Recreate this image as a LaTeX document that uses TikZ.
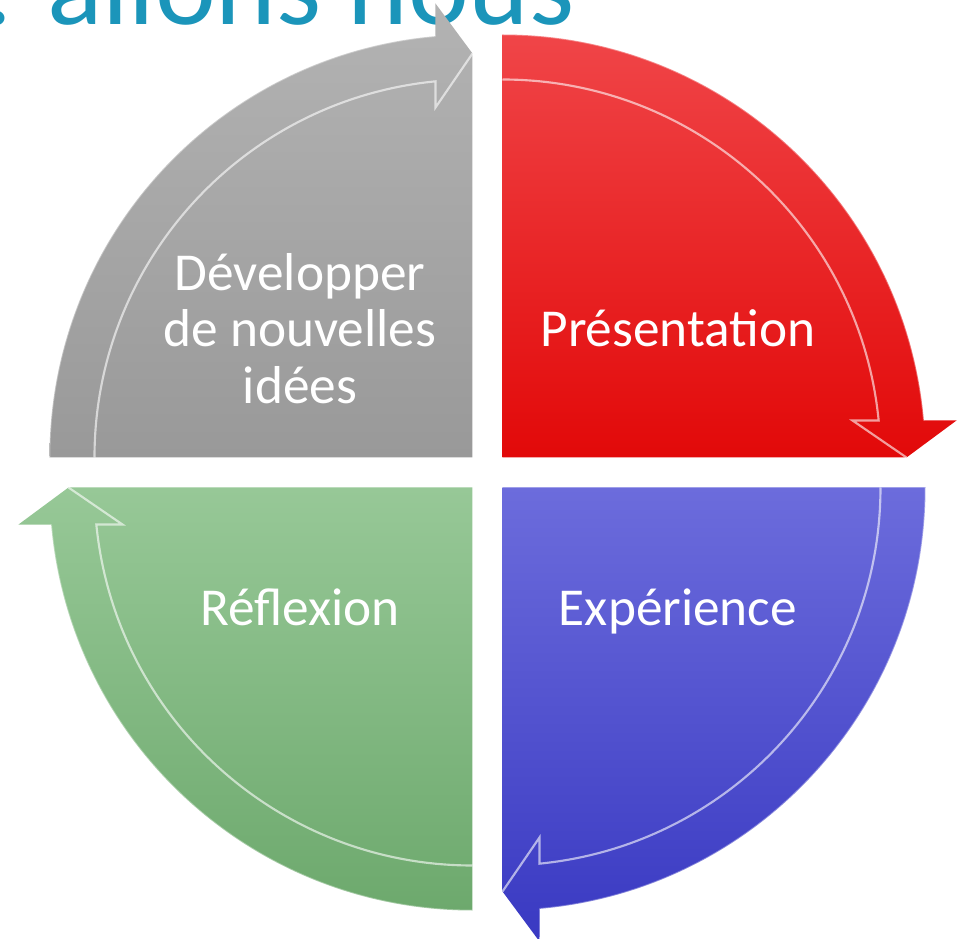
\documentclass[tikz,border=0pt]{standalone}
\usepackage{fontspec}
\setmainfont{Carlito}
\definecolor{redtop}{HTML}{F04548}
\definecolor{redmid}{HTML}{F01A1C}
\definecolor{redbot}{HTML}{E20909}
\definecolor{graytop}{HTML}{B3B3B3}
\definecolor{graymid}{HTML}{A6A6A6}
\definecolor{graybot}{HTML}{999999}
\definecolor{greentop}{HTML}{97C897}
\definecolor{greenmid}{HTML}{85BE85}
\definecolor{greenbot}{HTML}{6DA96D}
\definecolor{bluetop}{HTML}{6C6CDC}
\definecolor{bluemid}{HTML}{5252D2}
\definecolor{bluebot}{HTML}{3939C2}
\definecolor{titleblue}{HTML}{1B95BA}
\begin{document}
\begin{tikzpicture}[x=0.75pt,y=0.75pt,
  lbl/.style={text=white, font=\fontsize{40}{42.4}\selectfont, inner sep=0pt},
  hl/.style={draw=white, line width=1.6, opacity=0.6},
  rim/.style={draw=white, line width=1.2, opacity=0.35}]
\useasboundingbox (-487.5,-466.5) rectangle (473.5,472.5);
\clip (-487.5,-466.5) rectangle (473.5,472.5);
% title
\node[anchor=base west, inner sep=0pt, text=titleblue, font=\fontsize{86.5}{98}\selectfont] (title) at (-504.5,447.5) {. allons nous};
% red quadrant
\path[top color=redtop, middle color=redmid, bottom color=redbot]
  (15,15) -- (15,438) arc[start angle=90, end angle=5.02, radius=423] -- (469,52) -- (419,15) -- cycle;
\draw[rim] (15,438) arc[start angle=90, end angle=5.02, radius=423];
\draw[hl] (15,393) arc[start angle=90, end angle=5.62, radius=378] -- (365,52) -- (419,15);
% gray quadrant
\path[top color=graytop, middle color=graymid, bottom color=graybot]
  (-15,15) -- (-438,15) arc[start angle=180, end angle=95.02, radius=423] -- (-52,469) -- (-15,419) -- cycle;
\draw[rim] (-438,15) arc[start angle=180, end angle=95.02, radius=423];
\draw[hl] (-393,15) arc[start angle=180, end angle=95.62, radius=378] -- (-52,365) -- (-15,419);
% green quadrant
\path[top color=greentop, middle color=greenmid, bottom color=greenbot]
  (-15,-15) -- (-15,-438) arc[start angle=270, end angle=185.02, radius=423] -- (-469,-52) -- (-419,-15) -- cycle;
\draw[rim] (-15,-438) arc[start angle=270, end angle=185.02, radius=423];
\draw[hl] (-15,-393) arc[start angle=270, end angle=185.62, radius=378] -- (-365,-52) -- (-419,-15);
% blue quadrant
\path[top color=bluetop, middle color=bluemid, bottom color=bluebot]
  (15,-15) -- (438,-15) arc[start angle=0, end angle=-84.98, radius=423] -- (52,-469) -- (15,-419) -- cycle;
\draw[rim] (438,-15) arc[start angle=0, end angle=-84.98, radius=423];
\draw[hl] (393,-15) arc[start angle=0, end angle=-84.38, radius=378] -- (52,-365) -- (15,-419);
% labels
\node[lbl, anchor=base] (pres) at (190.5,125.5) {Présentation};
\node[lbl, align=center] (dev) at (-187.5,144) {Développer\\de nouvelles\\idées};
\node[lbl, anchor=base] (refl) at (-187.5,-152.5) {Réflexion};
\node[lbl, anchor=base] (exp) at (190.5,-152.5) {Expérience};
\end{tikzpicture}
\end{document}
